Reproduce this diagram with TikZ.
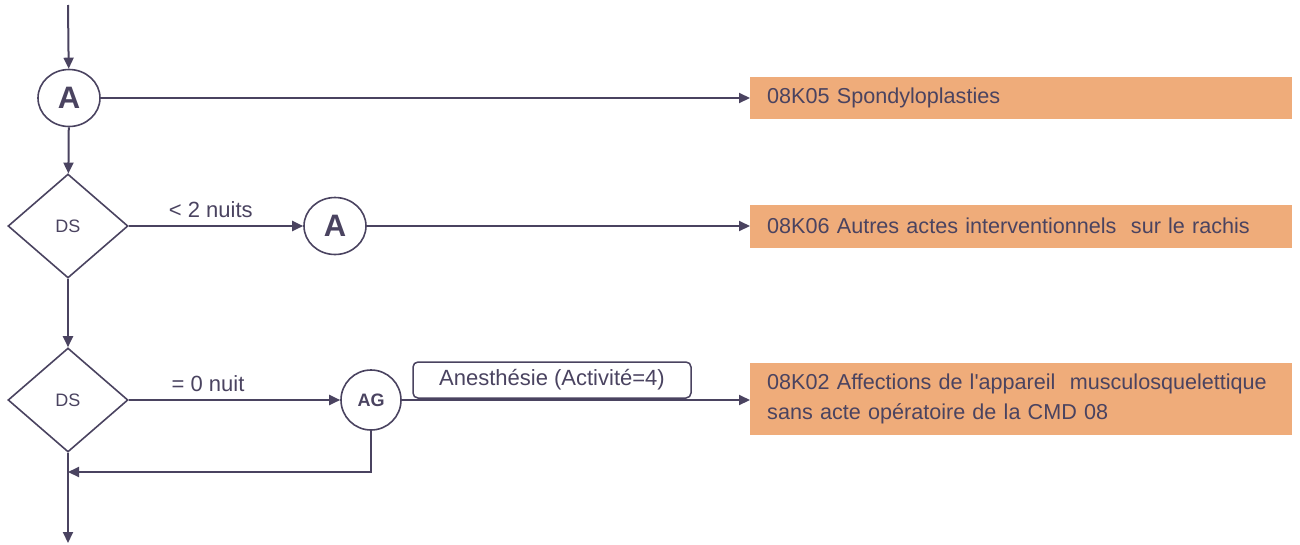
\documentclass[tikz,border=0pt]{standalone}
\usepackage{fontspec}
\setmainfont{Liberation Sans}[Ligatures=TeXOff]
\usetikzlibrary{arrows.meta,shapes.geometric}
\definecolor{ln}{HTML}{4A4360}
\definecolor{boxc}{HTML}{EFAC7A}
\begin{document}
\begin{tikzpicture}[x=1pt,y=-1pt,
 line/.style={draw=ln,line width=2pt},
 arr/.style={line,-{Triangle[length=11pt,width=10pt]}},
 circ/.style={ellipse,draw=ln,line width=1.6pt,minimum width=62pt,minimum height=57pt,inner sep=0pt,text=ln,font=\fontsize{31}{34}\selectfont\bfseries},
 dia/.style={diamond,draw=ln,line width=1.6pt,minimum width=120pt,minimum height=104pt,inner sep=0pt,text=ln,font=\fontsize{18}{20}\selectfont},
 res/.style={anchor=west,fill=boxc,text=ln,inner xsep=17pt,inner ysep=0pt,text width=508pt,align=left,minimum height=42pt,font=\fontsize{21.6}{30}\selectfont},
 lab/.style={text=ln,font=\fontsize{22}{26}\selectfont},
 tag/.style={draw=ln,line width=1.5pt,rounded corners=5pt,fill=white,text=ln,minimum width=278pt,minimum height=36pt,inner sep=0pt,font=\fontsize{22}{26}\selectfont}
]
\useasboundingbox (0,0) rectangle (1300,544);
\coordinate (top) at (68,5);
\node[circ] (A1) at (69,98) {A};
\node[dia] (D1) at (68,226) {DS};
\node[circ] (A2) at (335,226) {A};
\node[dia] (D2) at (68,400) {DS};
\node[circ,minimum width=60pt,minimum height=60pt,font=\fontsize{18}{20}\selectfont\bfseries] (AG) at (371,400) {AG};
\node[res] (B1) at (750,98) {08K05 Spondyloplasties};
\node[res,minimum height=43pt] (B2) at (750,226) {08K06 Autres actes interventionnels\ \ sur le rachis};
\node[res,minimum height=72pt] (B3) at (750,399) {\mbox{08K02 Affections de l'appareil\ \ musculosquelettique}\\sans acte opératoire de la CMD 08};
\coordinate (J) at (68,472);
\coordinate (bot) at (68,543);
\draw[arr] (top) -- (A1);
\draw[arr] (A1) -- (B1.west);
\draw[arr] (A1) -- (D1);
\draw[arr] (D1) -- node[lab,pos=0.47,above=4pt] {< 2 nuits} (A2);
\draw[arr] (A2) -- (B2.west);
\draw[arr] (D1) -- (D2);
\draw[arr] (D2) -- node[lab,pos=0.375,above=4pt] {= 0 nuit} (AG);
\draw[arr] (AG.east) -- (AG.east -| B3.west);
\draw[arr] (AG.south) |- (J);
\draw[arr] (D2) -- (bot);
\node[tag] (L) at (552,380) {Anesthésie (Activité=4)};
\end{tikzpicture}
\end{document}
